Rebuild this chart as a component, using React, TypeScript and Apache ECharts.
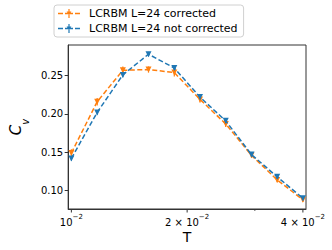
import React, { useEffect, useRef } from 'react';
import * as echarts from 'echarts';

const temperatures = [0.0100, 0.01167, 0.01361, 0.01587, 0.01852, 0.02160, 0.02520, 0.02940, 0.03429, 0.04000];
const cvCorrected = [0.149, 0.216, 0.257, 0.258, 0.254, 0.219, 0.187, 0.146, 0.114, 0.088];
const errCorrected = [0.005, 0.005, 0.005, 0.004, 0.005, 0.004, 0.004, 0.003, 0.003, 0.003];
const cvNotCorrected = [0.142, 0.202, 0.251, 0.278, 0.260, 0.222, 0.191, 0.147, 0.118, 0.090];
const errNotCorrected = [0.003, 0.003, 0.003, 0.003, 0.003, 0.003, 0.003, 0.003, 0.003, 0.003];
const seriesNames = ['LCRBM L=24 corrected', 'LCRBM L=24 not corrected'];
const yTicks = [0.10, 0.15, 0.20, 0.25];
const xLabelTicks = [0.01, 0.02, 0.04];
const xLabelTexts = ['{n|10}{s|−2}', '{n|2 × 10}{s|−2}', '{n|4 × 10}{s|−2}'];
const xMinorTicks = [0.03];

const FONT = 'DejaVu Sans';
const AXIS = '#333';
const ORANGE = '#ff7f0e';
const BLUE = '#1f77b4';
const LEGEND_ICON =
  'path://M0,4.3h5v1.4h-5Z M7,4.3h3v1.4h-3Z M12,4.3h3v1.4h-3Z M17,4.3h5v1.4h-5Z M10.4,0.5h1.2v9h-1.2Z M8.6,3h4.8l-2.4,3.8Z';

export default function App() {
  const ref = useRef<HTMLDivElement>(null);
  useEffect(() => {
    if (!ref.current) return;
    document.body.style.margin = '0';
    const chart = echarts.init(ref.current, undefined, { renderer: 'svg' });
    const xMin = 0.00981;
    const xMax = 0.04075;
    const yMin = 0.076;
    const yMax = 0.29;
    const mk = (vals: number[]) => temperatures.map((t, i) => [t, vals[i]]);
    const mkErr = (vals: number[], errs: number[]) => temperatures.map((t, i) => [t, vals[i] - errs[i], vals[i] + errs[i]]);
    const errSeries = (name: string, vals: number[], errs: number[], color: string, z: number) => ({
      name,
      type: 'custom',
      data: mkErr(vals, errs),
      z,
      silent: true,
      encode: { x: 0, y: [1, 2] },
      renderItem: (_params: any, api: any) => {
        const x = api.value(0);
        const p1 = api.coord([x, api.value(1)]);
        const p2 = api.coord([x, api.value(2)]);
        return {
          type: 'line',
          shape: { x1: p1[0], y1: p1[1], x2: p2[0], y2: p2[1] },
          style: { stroke: color, lineWidth: 1.2 },
        };
      },
    });
    chart.setOption({
      animation: false,
      grid: { left: 54, right: 26, top: 45, bottom: 41, show: true, borderColor: AXIS, borderWidth: 1, backgroundColor: 'transparent' },
      legend: {
        orient: 'vertical',
        left: 54,
        top: 5,
        itemWidth: 22,
        itemHeight: 10,
        itemGap: 4,
        padding: [3, 6, 3, 4],
        borderColor: '#d0d0d0',
        borderWidth: 1,
        borderRadius: 3,
        backgroundColor: 'rgba(255,255,255,0.8)',
        textStyle: { fontSize: 11, fontFamily: FONT, color: '#000', padding: [0, 0, 0, 4] },
        data: [
          { name: seriesNames[0], icon: LEGEND_ICON, itemStyle: { color: ORANGE, borderWidth: 0 } },
          { name: seriesNames[1], icon: LEGEND_ICON, itemStyle: { color: BLUE, borderWidth: 0 } },
        ],
      },
      xAxis: {
        type: 'log',
        logBase: 10,
        min: xMin,
        max: xMax,
        name: 'T',
        nameLocation: 'middle',
        nameGap: 21,
        nameTextStyle: { fontSize: 14, fontFamily: FONT, color: '#000' },
        axisLine: { show: true, lineStyle: { color: AXIS, width: 1 } },
        axisTick: { show: false },
        axisLabel: { show: false },
        splitLine: { show: false },
        minorTick: { show: false },
      },
      yAxis: {
        type: 'value',
        min: yMin,
        max: yMax,
        name: '{c|C}{v|v}',
        nameLocation: 'middle',
        nameGap: 34,
        nameRotate: 90,
        nameTextStyle: {
          fontFamily: FONT,
          color: '#000',
          rich: {
            c: { fontSize: 15, fontStyle: 'italic', fontFamily: FONT, lineHeight: 18, verticalAlign: 'top' },
            v: { fontSize: 10, fontStyle: 'italic', fontFamily: FONT, lineHeight: 18, verticalAlign: 'bottom', padding: [0, 0, -4, 0] },
          },
        },
        axisLine: { show: true, lineStyle: { color: AXIS, width: 1 } },
        axisTick: { show: true, length: 3.5, customValues: yTicks, lineStyle: { color: AXIS } },
        axisLabel: {
          customValues: yTicks,
          formatter: (v: number) => v.toFixed(2),
          fontSize: 10,
          fontFamily: FONT,
          color: '#000',
          margin: 5,
        },
        splitLine: { show: false },
      },
      series: [
        errSeries('err-corrected', cvCorrected, errCorrected, ORANGE, 2),
        {
          name: seriesNames[0],
          type: 'line',
          data: mk(cvCorrected),
          symbol: 'triangle',
          symbolRotate: 180,
          symbolSize: 6,
          itemStyle: { color: ORANGE },
          lineStyle: { color: ORANGE, width: 1.5, type: [5, 2.5] },
          z: 2,
        },
        errSeries('err-not-corrected', cvNotCorrected, errNotCorrected, BLUE, 3),
        {
          name: seriesNames[1],
          type: 'line',
          data: mk(cvNotCorrected),
          symbol: 'triangle',
          symbolRotate: 180,
          symbolSize: 6,
          itemStyle: { color: BLUE },
          lineStyle: { color: BLUE, width: 1.5, type: [5, 2.5] },
          z: 3,
        },
      ],
    });

    const yb = chart.convertToPixel({ yAxisIndex: 0 }, yMin) as number;
    const graphics: any[] = [];
    xLabelTicks.forEach((v, i) => {
      const x = chart.convertToPixel({ xAxisIndex: 0 }, v) as number;
      graphics.push({
        type: 'line',
        shape: { x1: x, y1: yb, x2: x, y2: yb + 3.5 },
        style: { stroke: AXIS, lineWidth: 1 },
        silent: true,
      });
      graphics.push({
        type: 'text',
        x,
        y: yb + 4,
        silent: true,
        style: {
          text: xLabelTexts[i],
          align: 'center',
          verticalAlign: 'top',
          fill: '#000',
          rich: {
            n: { fontSize: 10, fontFamily: FONT, fill: '#000', lineHeight: 14, verticalAlign: 'bottom' },
            s: { fontSize: 7, fontFamily: FONT, fill: '#000', lineHeight: 8, verticalAlign: 'top' },
          },
        },
      });
    });
    xMinorTicks.forEach((v) => {
      const x = chart.convertToPixel({ xAxisIndex: 0 }, v) as number;
      graphics.push({
        type: 'line',
        shape: { x1: x, y1: yb, x2: x, y2: yb + 2 },
        style: { stroke: AXIS, lineWidth: 0.8 },
        silent: true,
      });
    });
    chart.setOption({ graphic: graphics });

    return () => chart.dispose();
  }, []);
  return <div ref={ref} style={{ position: 'absolute', left: 0, top: 0, width: 332, height: 250 }} />;
}
